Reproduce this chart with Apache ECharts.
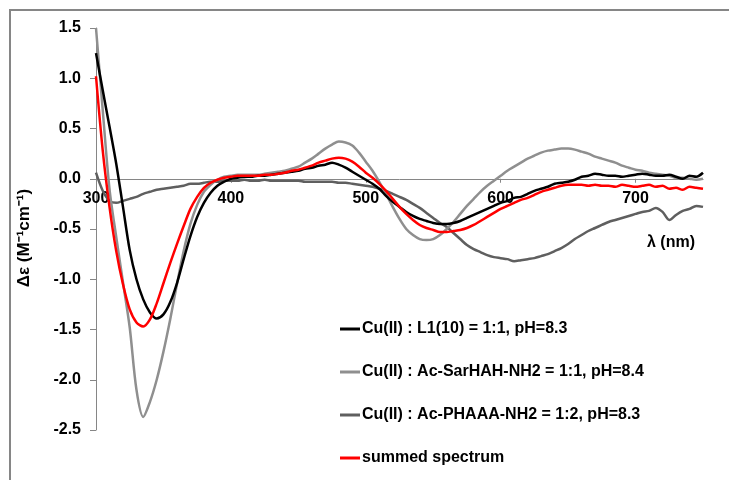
<!DOCTYPE html>
<html>
<head>
<meta charset="utf-8">
<script src="https://cdn.jsdelivr.net/npm/echarts@6/dist/echarts.min.js"></script>
<style>
  html, body { margin: 0; padding: 0; background: #ffffff; }
  #chart { width: 729px; height: 480px; }
</style>
</head>
<body>
<div id="chart"></div>
<script>
// Wavelength grid (nm), 5 nm steps
const wavelengths = [];
for (let w = 300; w <= 750; w += 5) wavelengths.push(w);

// Δε values (M⁻¹cm⁻¹) on the wavelength grid
const L1 = [
  1.25, 0.88, 0.52, 0.15, -0.28, -0.71, -1.0, -1.2, -1.33, -1.39,
  -1.35, -1.23, -1.04, -0.8, -0.57, -0.38, -0.24, -0.14, -0.07, -0.03,
  0.0, 0.01, 0.02, 0.02, 0.03, 0.03, 0.04, 0.05, 0.06, 0.07,
  0.08, 0.1, 0.11, 0.13, 0.14, 0.16, 0.14, 0.11, 0.07, 0.03,
  -0.01, -0.05, -0.1, -0.17, -0.23, -0.28, -0.33, -0.37, -0.4, -0.42,
  -0.44, -0.45, -0.45, -0.44, -0.42, -0.39, -0.36, -0.33, -0.3, -0.27,
  -0.24, -0.22, -0.19, -0.18, -0.15, -0.12, -0.1, -0.08, -0.05, -0.04,
  -0.03, -0.01, 0.02, 0.03, 0.05, 0.04, 0.03, 0.03, 0.02, 0.03,
  0.04, 0.05, 0.04, 0.03, 0.03, 0.04, 0.02, 0.0, 0.03, 0.02,
  0.06
];
const sarHAH = [
  1.5, 0.68, -0.1, -0.58, -1.03, -1.48, -2.1, -2.37, -2.22, -2.0,
  -1.72, -1.4, -1.05, -0.72, -0.45, -0.26, -0.13, -0.06, -0.01, 0.02,
  0.03, 0.04, 0.04, 0.04, 0.04, 0.05, 0.06, 0.07, 0.08, 0.1,
  0.12, 0.16, 0.2, 0.25, 0.3, 0.34, 0.37, 0.36, 0.33, 0.26,
  0.17, 0.08, -0.03, -0.15, -0.28, -0.4, -0.5, -0.56, -0.6, -0.61,
  -0.6, -0.56, -0.5, -0.43, -0.35, -0.27, -0.2, -0.13, -0.07, -0.02,
  0.03, 0.08, 0.12, 0.16, 0.2, 0.23, 0.26, 0.28, 0.29, 0.3,
  0.3, 0.29, 0.27, 0.25, 0.22, 0.2, 0.18, 0.16, 0.13, 0.11,
  0.09, 0.08, 0.06, 0.05, 0.04, 0.03, 0.01, 0.01, 0.0, -0.01,
  0.0
];
const phaaa = [
  0.06, -0.12, -0.22, -0.24, -0.22, -0.2, -0.18, -0.15, -0.13, -0.11,
  -0.1, -0.09, -0.08, -0.07, -0.05, -0.05, -0.04, -0.03, -0.03, -0.02,
  -0.02, -0.02, -0.01, -0.02, -0.02, -0.01, -0.02, -0.02, -0.02, -0.02,
  -0.02, -0.03, -0.03, -0.03, -0.03, -0.03, -0.04, -0.04, -0.05, -0.06,
  -0.07, -0.08, -0.1, -0.12, -0.15, -0.18, -0.21, -0.25, -0.29, -0.34,
  -0.39, -0.44, -0.48, -0.54, -0.6, -0.66, -0.7, -0.73, -0.76, -0.78,
  -0.79, -0.8, -0.82, -0.81, -0.8, -0.79, -0.77, -0.75, -0.72, -0.69,
  -0.65, -0.6, -0.56, -0.52, -0.49, -0.46, -0.43, -0.41, -0.39, -0.37,
  -0.35, -0.33, -0.32, -0.29, -0.33, -0.41, -0.36, -0.32, -0.3, -0.27,
  -0.28
];
const summed = [
  1.02, 0.28, -0.28, -0.72, -1.05, -1.3, -1.43, -1.47, -1.4, -1.24,
  -1.04, -0.84, -0.65, -0.47, -0.3, -0.18, -0.09, -0.04, -0.01, 0.01,
  0.02, 0.03, 0.03, 0.03, 0.03, 0.04, 0.04, 0.05, 0.06, 0.08,
  0.09, 0.11, 0.13, 0.16, 0.18, 0.2, 0.21, 0.2, 0.17, 0.12,
  0.06, 0.01, -0.05, -0.12, -0.2, -0.28, -0.35, -0.41, -0.46, -0.49,
  -0.51, -0.53, -0.53, -0.52, -0.51, -0.49, -0.46, -0.42, -0.38, -0.34,
  -0.3, -0.27, -0.24, -0.21, -0.19, -0.16, -0.13, -0.11, -0.09, -0.07,
  -0.06, -0.06, -0.06, -0.07, -0.06, -0.07, -0.07, -0.08, -0.06, -0.07,
  -0.08, -0.07, -0.06, -0.08, -0.07, -0.1, -0.09, -0.11, -0.08, -0.09,
  -0.1
];

const seriesNames = [
  'Cu(II) : L1(10) = 1:1, pH=8.3',
  'Cu(II) : Ac-SarHAH-NH2 = 1:1, pH=8.4',
  'Cu(II) : Ac-PHAAA-NH2 = 1:2, pH=8.3',
  'summed spectrum'
];
const xTicks = [300, 400, 500, 600, 700];

const pairs = vals => wavelengths.map((w, i) => [w, vals[i]]);
const font = '"Liberation Sans", Arial, sans-serif';

const gridTop = 28, gridBottom = 50, yMin = -2.5, yMax = 1.5;
// place the wavelength axis on the Δε = 0 line
const plotH = 480 - gridTop - gridBottom;
const zeroOffset = -plotH * (0 - yMin) / (yMax - yMin);

function line(name, vals, color) {
  return {
    name, type: 'line', data: pairs(vals),
    showSymbol: false, smooth: 0.3,
    lineStyle: { color, width: 2.5 },
    itemStyle: { color },
    emphasis: { disabled: true }
  };
}

const chart = echarts.init(document.getElementById('chart'), null, { renderer: 'canvas' });
chart.setOption({
  animation: false,
  backgroundColor: '#ffffff',
  textStyle: { fontFamily: font },
  grid: { left: 96, right: 26, top: gridTop, bottom: gridBottom, containLabel: false },
  xAxis: {
    type: 'value', min: 300, max: 750,
    offset: zeroOffset,
    axisLine: { onZero: false, lineStyle: { color: '#868686', width: 1 } },
    axisTick: { show: true, length: 4, customValues: xTicks, lineStyle: { color: '#868686' } },
    axisLabel: { customValues: xTicks, margin: 12, color: '#000', fontWeight: 'bold', fontSize: 16, fontFamily: font },
    splitLine: { show: false }
  },
  yAxis: {
    type: 'value', min: yMin, max: yMax, interval: 0.5,
    axisLine: { show: true, lineStyle: { color: '#868686', width: 1 } },
    axisTick: { show: true, length: 6, lineStyle: { color: '#868686' } },
    axisLabel: { margin: 15, color: '#000', fontWeight: 'bold', fontSize: 16, fontFamily: font,
      formatter: v => v.toFixed(1) },
    splitLine: { show: false }
  },
  legend: {
    orient: 'vertical', left: 335, top: 316, itemGap: 27,
    itemWidth: 20, itemHeight: 3, icon: 'rect',
    data: seriesNames,
    textStyle: { color: '#000', fontWeight: 'bold', fontSize: 16, fontFamily: font, padding: [0, 0, 0, -3] }
  },
  graphic: [
    { type: 'rect', shape: { x: 10, y: 10, width: 740, height: 500 }, silent: true,
      style: { fill: 'none', stroke: '#868686', lineWidth: 2 } },
    { type: 'text', x: 24, y: 238, rotation: Math.PI / 2, silent: true,
      style: { text: 'Δε (M⁻¹cm⁻¹)', fill: '#000', font: 'bold 17px ' + font, align: 'center', verticalAlign: 'middle' } },
    { type: 'text', x: 671, y: 243, silent: true,
      style: { text: 'λ (nm)', fill: '#000', font: 'bold 16px ' + font, align: 'center', verticalAlign: 'middle' } }
  ],
  series: [
    line(seriesNames[2], phaaa, '#5f5f5f'),
    line(seriesNames[1], sarHAH, '#8f8f8f'),
    line(seriesNames[0], L1, '#000000'),
    line(seriesNames[3], summed, '#ff0000')
  ]
});
</script>
</body>
</html>
